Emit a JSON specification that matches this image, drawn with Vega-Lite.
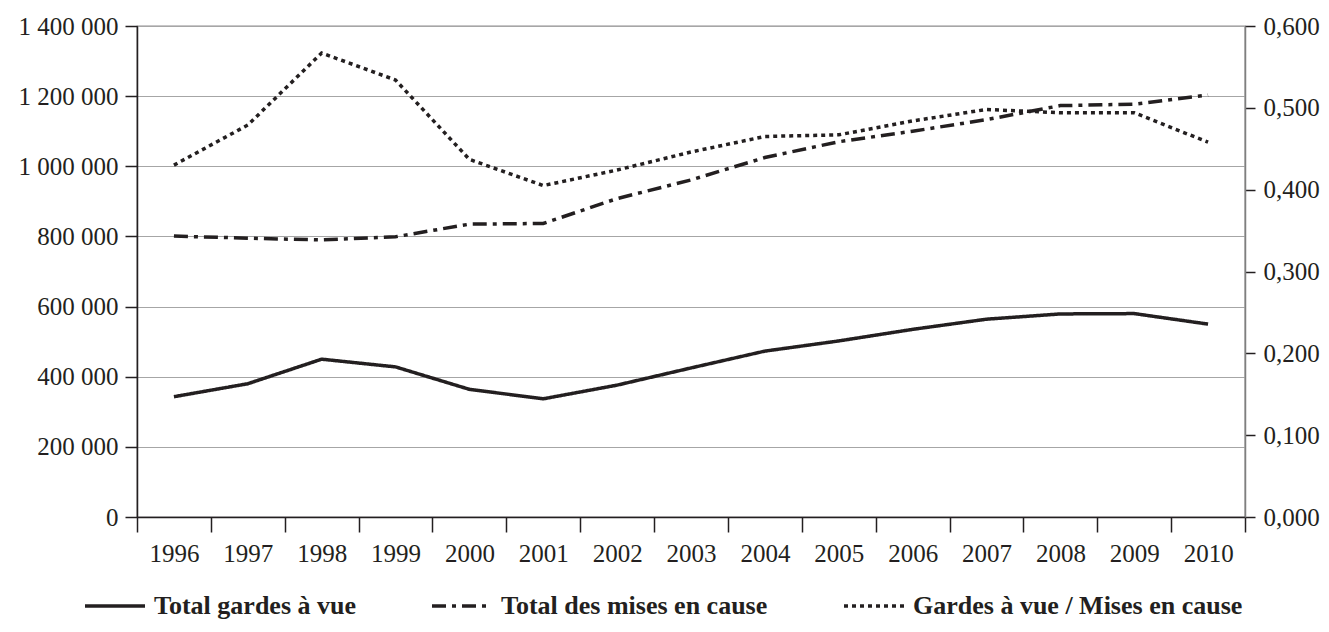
{
  "$schema": "https://vega.github.io/schema/vega-lite/v6.json",
  "autosize": {"type": "none"},
  "padding": {"left": 137, "top": 26, "right": 84, "bottom": 115},
  "width": 1108,
  "height": 491,
  "background": "white",
  "config": {
    "locale": {"number": {"decimal": ",", "thousands": " ", "grouping": [3], "currency": ["", " €"]}},
    "view": {"stroke": "#231f20", "strokeWidth": 1.2},
    "axis": {
      "labelFont": "Liberation Serif",
      "labelFontSize": 25,
      "labelColor": "#231f20",
      "domainColor": "#231f20",
      "domainWidth": 1.5,
      "tickColor": "#231f20",
      "tickWidth": 1.5,
      "title": null
    }
  },
  "data": {
    "values": [
      {"annee": 1996, "serie": "Total gardes à vue", "valeur": 343000},
      {"annee": 1997, "serie": "Total gardes à vue", "valeur": 380000},
      {"annee": 1998, "serie": "Total gardes à vue", "valeur": 450000},
      {"annee": 1999, "serie": "Total gardes à vue", "valeur": 428000},
      {"annee": 2000, "serie": "Total gardes à vue", "valeur": 364000},
      {"annee": 2001, "serie": "Total gardes à vue", "valeur": 337000},
      {"annee": 2002, "serie": "Total gardes à vue", "valeur": 376000},
      {"annee": 2003, "serie": "Total gardes à vue", "valeur": 425000},
      {"annee": 2004, "serie": "Total gardes à vue", "valeur": 473000},
      {"annee": 2005, "serie": "Total gardes à vue", "valeur": 502000},
      {"annee": 2006, "serie": "Total gardes à vue", "valeur": 535000},
      {"annee": 2007, "serie": "Total gardes à vue", "valeur": 564000},
      {"annee": 2008, "serie": "Total gardes à vue", "valeur": 579000},
      {"annee": 2009, "serie": "Total gardes à vue", "valeur": 580000},
      {"annee": 2010, "serie": "Total gardes à vue", "valeur": 550000},
      {"annee": 1996, "serie": "Total des mises en cause", "valeur": 801000},
      {"annee": 1997, "serie": "Total des mises en cause", "valeur": 795000},
      {"annee": 1998, "serie": "Total des mises en cause", "valeur": 790000},
      {"annee": 1999, "serie": "Total des mises en cause", "valeur": 799000},
      {"annee": 2000, "serie": "Total des mises en cause", "valeur": 835000},
      {"annee": 2001, "serie": "Total des mises en cause", "valeur": 837000},
      {"annee": 2002, "serie": "Total des mises en cause", "valeur": 908000},
      {"annee": 2003, "serie": "Total des mises en cause", "valeur": 961000},
      {"annee": 2004, "serie": "Total des mises en cause", "valeur": 1025000},
      {"annee": 2005, "serie": "Total des mises en cause", "valeur": 1070000},
      {"annee": 2006, "serie": "Total des mises en cause", "valeur": 1100000},
      {"annee": 2007, "serie": "Total des mises en cause", "valeur": 1133000},
      {"annee": 2008, "serie": "Total des mises en cause", "valeur": 1173000},
      {"annee": 2009, "serie": "Total des mises en cause", "valeur": 1177000},
      {"annee": 2010, "serie": "Total des mises en cause", "valeur": 1203000},
      {"annee": 1996, "serie": "Gardes à vue / Mises en cause", "valeur": 0.430},
      {"annee": 1997, "serie": "Gardes à vue / Mises en cause", "valeur": 0.479},
      {"annee": 1998, "serie": "Gardes à vue / Mises en cause", "valeur": 0.567},
      {"annee": 1999, "serie": "Gardes à vue / Mises en cause", "valeur": 0.534},
      {"annee": 2000, "serie": "Gardes à vue / Mises en cause", "valeur": 0.437},
      {"annee": 2001, "serie": "Gardes à vue / Mises en cause", "valeur": 0.405},
      {"annee": 2002, "serie": "Gardes à vue / Mises en cause", "valeur": 0.424},
      {"annee": 2003, "serie": "Gardes à vue / Mises en cause", "valeur": 0.446},
      {"annee": 2004, "serie": "Gardes à vue / Mises en cause", "valeur": 0.465},
      {"annee": 2005, "serie": "Gardes à vue / Mises en cause", "valeur": 0.467},
      {"annee": 2006, "serie": "Gardes à vue / Mises en cause", "valeur": 0.484},
      {"annee": 2007, "serie": "Gardes à vue / Mises en cause", "valeur": 0.498},
      {"annee": 2008, "serie": "Gardes à vue / Mises en cause", "valeur": 0.494},
      {"annee": 2009, "serie": "Gardes à vue / Mises en cause", "valeur": 0.494},
      {"annee": 2010, "serie": "Gardes à vue / Mises en cause", "valeur": 0.458}
    ]
  },
  "encoding": {
    "x": {
      "field": "annee",
      "type": "quantitative",
      "scale": {"domain": [1995.5, 2010.5], "nice": false, "zero": false},
      "axis": {
        "values": [1995.5, 1996.5, 1997.5, 1998.5, 1999.5, 2000.5, 2001.5, 2002.5, 2003.5, 2004.5, 2005.5, 2006.5, 2007.5, 2008.5, 2009.5, 2010.5],
        "labelExpr": "datum.value < 2010 ? '' + (datum.value + 0.5) : ''",
        "labelOffset": 37,
        "labelFlush": false,
        "labelOverlap": false,
        "labelPadding": 9,
        "tickSize": 15,
        "grid": false,
        "title": null
      }
    },
    "strokeDash": {
      "field": "serie",
      "type": "nominal",
      "scale": {
        "domain": ["Total gardes à vue", "Total des mises en cause", "Gardes à vue / Mises en cause"],
        "range": [[1, 0], [14, 6, 4, 6], [4, 4]]
      },
      "legend": {
        "orient": "none",
        "legendX": -54,
        "legendY": 548,
        "direction": "horizontal",
        "title": null,
        "symbolType": "stroke",
        "symbolSize": 3600,
        "symbolStrokeWidth": 3.5,
        "symbolStrokeColor": "#231f20",
        "labelFont": "Liberation Serif",
        "labelFontWeight": "bold",
        "labelFontSize": 26,
        "labelColor": "#231f20",
        "labelLimit": 0,
        "labelOffset": 7,
        "columnPadding": 69
      }
    }
  },
  "layer": [
    {
      "transform": [{"filter": "datum.serie != 'Gardes à vue / Mises en cause'"}],
      "mark": {"type": "line", "color": "#231f20", "strokeWidth": 3.5},
      "encoding": {
        "y": {
          "field": "valeur",
          "type": "quantitative",
          "scale": {"domain": [0, 1400000], "nice": false},
          "axis": {
            "orient": "left",
            "values": [0, 200000, 400000, 600000, 800000, 1000000, 1200000, 1400000],
            "format": ",d",
            "grid": true,
            "gridColor": "#a6a6a6",
            "gridWidth": 1.2,
            "tickSize": 12,
            "labelPadding": 7,
            "title": null
          }
        }
      }
    },
    {
      "transform": [{"filter": "datum.serie == 'Gardes à vue / Mises en cause'"}],
      "mark": {"type": "line", "color": "#231f20", "strokeWidth": 3.5},
      "encoding": {
        "y": {
          "field": "valeur",
          "type": "quantitative",
          "scale": {"domain": [0, 0.6], "nice": false},
          "axis": {
            "orient": "right",
            "values": [0, 0.1, 0.2, 0.3, 0.4, 0.5, 0.6],
            "format": ".3f",
            "grid": false,
            "domainColor": "#7f7f7f",
            "tickSize": 10,
            "labelPadding": 8,
            "title": null
          }
        }
      }
    }
  ],
  "resolve": {"scale": {"y": "independent"}}
}
